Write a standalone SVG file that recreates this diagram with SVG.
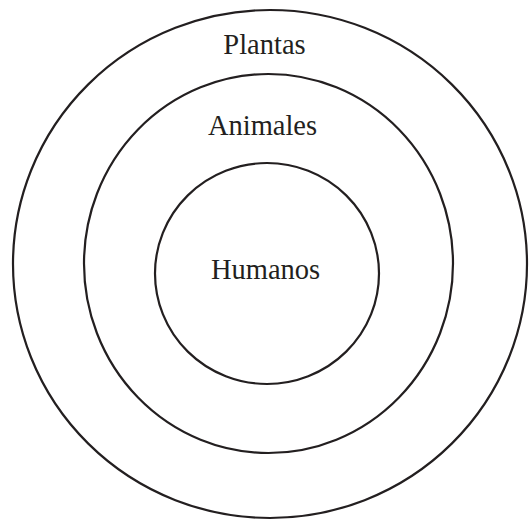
<svg xmlns="http://www.w3.org/2000/svg" width="530" height="520" viewBox="0 0 530 520">
<style>
.ring{fill:none;stroke:#231f20;stroke-width:2.2}
.lbl{font-family:"Liberation Serif","Times New Roman",serif;font-size:28.5px;fill:#231f20;text-anchor:middle}
</style>
<rect width="530" height="520" fill="#fff"/>
<g id="plantas">
<ellipse class="ring" cx="270" cy="264" rx="257" ry="254"/>
<text class="lbl" x="264.5" y="54">Plantas</text>
</g>
<g id="animales">
<ellipse class="ring" cx="268.5" cy="263.5" rx="184.5" ry="189.5"/>
<text class="lbl" x="262.5" y="135">Animales</text>
</g>
<g id="humanos">
<ellipse class="ring" cx="267" cy="273.5" rx="112" ry="110.5"/>
<text class="lbl" x="265.5" y="279">Humanos</text>
</g>
<g id="connectors"/>
</svg>
